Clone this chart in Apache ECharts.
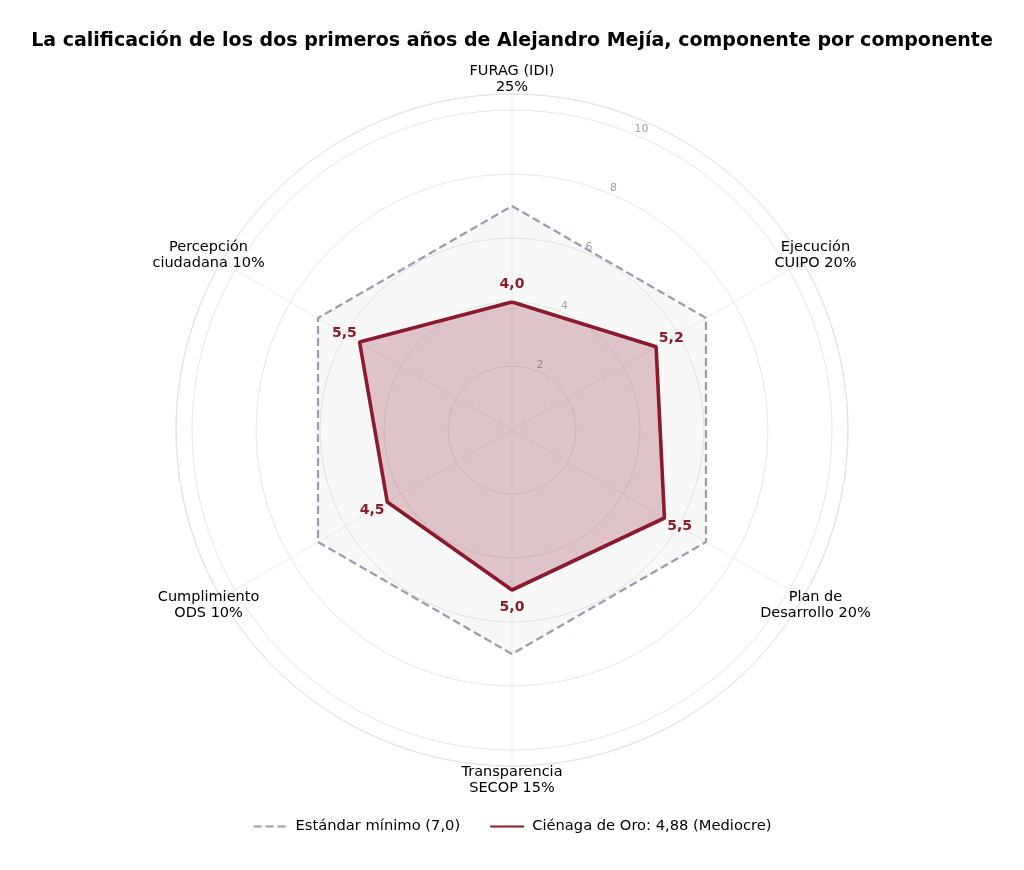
<!DOCTYPE html>
<html>
<head>
<meta charset="utf-8">
<script src="https://cdn.jsdelivr.net/npm/echarts@6/dist/echarts.min.js"></script>
<style>html,body{margin:0;padding:0;background:#fff}#c{width:1024px;height:870px}</style>
</head>
<body>
<div id="c"></div>
<script>
const indicators = ['FURAG (IDI)\n25%', 'Ejecución\nCUIPO 20%', 'Plan de\nDesarrollo 20%', 'Transparencia\nSECOP 15%', 'Cumplimiento\nODS 10%', 'Percepción\nciudadana 10%'];
const angles = [0, 60, 120, 180, 240, 300];
const standardValues = [7.0, 7.0, 7.0, 7.0, 7.0, 7.0];
const cienagaValues = [4.0, 5.2, 5.5, 5.0, 4.5, 5.5];
const valueLabels = ['4,0', '5,2', '5,5', '5,0', '4,5', '5,5'];
const radialTicks = [2, 4, 6, 8, 10];
const standardName = 'Estándar mínimo (7,0)';
const cienagaName = 'Ciénaga de Oro: 4,88 (Mediocre)';
const titleText = 'La calificación de los dos primeros años de Alejandro Mejía, componente por componente';

const FONT = 'DejaVu Sans';
const RED = '#8b1a2c';
const LABEL_OFF = 17.5;

function closed(vals) {
  const d = vals.map((v, i) => [v, angles[i]]);
  d.push([vals[0], 360]);
  return d;
}

const cienagaData = cienagaValues.map((v, i) => {
  const rad = angles[i] * Math.PI / 180;
  return {
    value: [v, angles[i]],
    label: {
      show: true,
      position: 'inside',
      offset: [Math.sin(rad) * LABEL_OFF, -Math.cos(rad) * LABEL_OFF],
      formatter: valueLabels[i]
    }
  };
});
cienagaData.push({ value: [cienagaValues[0], 360], label: { show: false } });

const chart = echarts.init(document.getElementById('c'));
chart.setOption({
  backgroundColor: '#ffffff',
  animation: false,
  textStyle: { fontFamily: FONT },
  title: {
    text: titleText,
    left: 'center',
    top: 27,
    textStyle: { fontFamily: FONT, fontWeight: 'bold', fontSize: 19, color: '#000' }
  },
  legend: {
    bottom: 31,
    left: 'center',
    itemWidth: 34,
    itemHeight: 14,
    itemGap: 29,
    textStyle: { fontFamily: FONT, fontSize: 14.7, color: '#000', padding: [0, 0, 0, 3] },
    itemStyle: { opacity: 0 },
    data: [standardName, cienagaName]
  },
  polar: [
    { center: [512, 430], radius: 336 },
    { center: [512, 430], radius: 336 }
  ],
  angleAxis: [
    {
      polarIndex: 0, type: 'value', min: 0, max: 360, interval: 60,
      startAngle: 90, clockwise: true,
      axisLine: { show: true, lineStyle: { color: '#e2e2e2', width: 1 } },
      axisTick: { show: false }, axisLabel: { show: false },
      splitLine: { show: true, lineStyle: { color: '#ededed', width: 1 } }
    },
    {
      polarIndex: 1, type: 'value', min: 0, max: 360,
      startAngle: 67.5, clockwise: true,
      axisLine: { show: false }, axisTick: { show: false },
      axisLabel: { show: false }, splitLine: { show: false }
    }
  ],
  radiusAxis: [
    {
      polarIndex: 0, min: 0, max: 10.5, interval: 2,
      axisLine: { show: false }, axisTick: { show: false }, axisLabel: { show: false },
      splitLine: { show: true, lineStyle: { color: '#e6e6e6', width: 1 } }
    },
    {
      polarIndex: 1, min: 0, max: 10.5, interval: 2,
      axisLine: { show: false }, axisTick: { show: false }, splitLine: { show: false },
      axisLabel: {
        show: true, margin: 0, color: '#9e9eb0', fontSize: 11, fontFamily: FONT,
        align: 'left', verticalAlign: 'bottom',
        formatter: v => radialTicks.indexOf(v) >= 0 ? String(v) : ''
      }
    }
  ],
  series: [
    {
      name: standardName, type: 'line', coordinateSystem: 'polar', polarIndex: 0,
      data: closed(standardValues), symbol: 'none', z: 2,
      lineStyle: { color: '#9d9daf', width: 2.2, type: [8, 4] },
      itemStyle: { color: '#9d9daf' },
      areaStyle: { color: 'rgba(200,200,200,0.13)', opacity: 1 }
    },
    {
      name: cienagaName, type: 'line', coordinateSystem: 'polar', polarIndex: 0,
      data: cienagaData, symbol: 'circle', symbolSize: 0.1, showSymbol: true, z: 3,
      lineStyle: { color: RED, width: 3.6 },
      itemStyle: { color: RED },
      areaStyle: { color: 'rgba(139,26,44,0.23)', opacity: 1 },
      label: { color: RED, fontWeight: 'bold', fontSize: 14, fontFamily: FONT, textBorderWidth: 0 }
    },
    {
      name: 'labels', type: 'scatter', coordinateSystem: 'polar', polarIndex: 0,
      clip: false, symbolSize: 0.1, silent: true,
      itemStyle: { color: 'rgba(0,0,0,0)', opacity: 1 },
      data: indicators.map((n, i) => ({ value: [10.95, angles[i]], name: n })),
      label: {
        show: true, position: 'inside', color: '#000', fontSize: 14.5, lineHeight: 16,
        fontFamily: FONT, textBorderWidth: 0, opacity: 1, formatter: p => p.name
      }
    }
  ]
});
</script>
</body>
</html>
